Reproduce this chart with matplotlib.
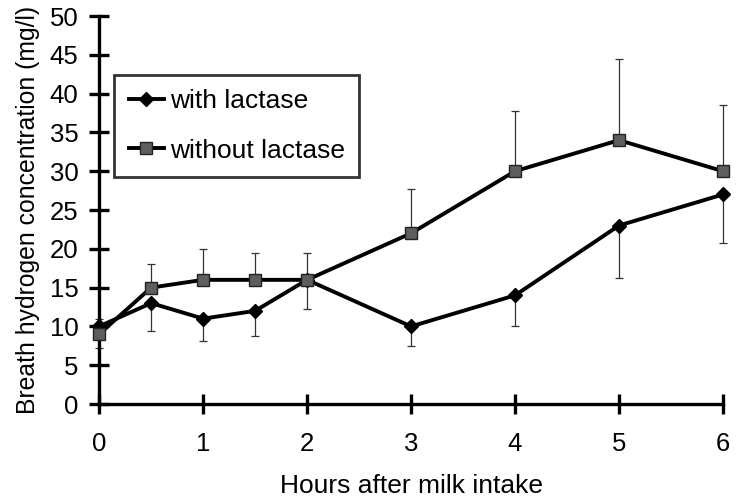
import matplotlib.pyplot as plt

hours = [0, 0.5, 1, 1.5, 2, 3, 4, 5, 6]
with_lactase = [10, 13, 11, 12, 16, 10, 14, 23, 27]
with_lactase_err = [2.8, 3.6, 2.9, 3.2, 3.8, 2.5, 4.0, 6.7, 6.3]
without_lactase = [9, 15, 16, 16, 16, 22, 30, 34, 30]
without_lactase_err = [1.9, 3.1, 4.0, 3.4, 3.4, 5.7, 7.8, 10.5, 8.5]

x_ticks = [0, 1, 2, 3, 4, 5, 6]
y_ticks = list(range(0, 51, 5))


def main():
    plt.rcParams['font.family'] = ['Liberation Sans', 'DejaVu Sans']
    fig = plt.figure(figsize=(7.4, 5.0), dpi=100)
    ax = fig.add_axes([0.134, 0.192, 0.843, 0.776])

    zeros = [0] * len(hours)
    # error bars: lower only for "with", upper only for "without"
    ax.errorbar(hours, with_lactase, yerr=[with_lactase_err, zeros],
                fmt='none', ecolor='#333333', elinewidth=0.9,
                capsize=3, capthick=0.9, zorder=2, clip_on=False)
    ax.errorbar(hours, without_lactase, yerr=[zeros, without_lactase_err],
                fmt='none', ecolor='#333333', elinewidth=0.9,
                capsize=3, capthick=0.9, zorder=2, clip_on=False)

    ax.plot(hours, with_lactase, color='black', lw=2.8, marker='D',
            markersize=7.5, markerfacecolor='black', markeredgecolor='black',
            label='with lactase', zorder=3, clip_on=False)
    ax.plot(hours, without_lactase, color='black', lw=2.8, marker='s',
            markersize=8.5, markerfacecolor='#5e5e5e', markeredgecolor='#222222',
            markeredgewidth=1.0, label='without lactase', zorder=4,
            clip_on=False)

    ax.set_xlim(0, 6)
    ax.set_ylim(0, 50)
    ax.set_xticks(x_ticks)
    ax.set_yticks(y_ticks)

    for side in ['top', 'right']:
        ax.spines[side].set_visible(False)
    for side in ['left', 'bottom']:
        ax.spines[side].set_linewidth(2.4)

    ax.tick_params(axis='both', direction='inout', length=14, width=2.4,
                   labelsize=18.5)
    ax.tick_params(axis='y', pad=8)
    ax.tick_params(axis='x', pad=13)

    ax.set_xlabel('Hours after milk intake', fontsize=19, labelpad=13)
    ax.set_ylabel('Breath hydrogen concentration (mg/l)', fontsize=17.8,
                  labelpad=7)

    leg = ax.legend(loc='upper left', bbox_to_anchor=(0.024, 0.848),
                    fontsize=19, frameon=True, fancybox=False,
                    edgecolor='black', handlelength=1.35, labelspacing=0.95,
                    borderpad=0.55, handletextpad=0.2, borderaxespad=0)
    leg.get_frame().set_linewidth(2.0)

    fig.savefig('out.png', dpi=100)


if __name__ == '__main__':
    main()
